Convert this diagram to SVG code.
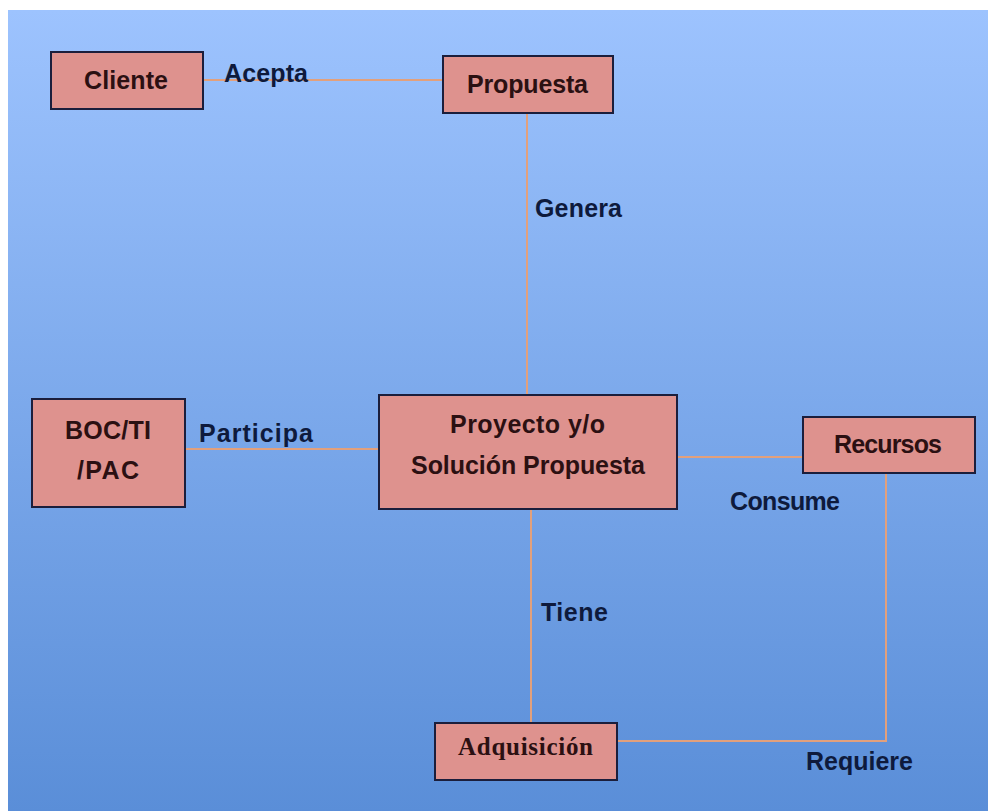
<svg xmlns="http://www.w3.org/2000/svg" width="988" height="811" viewBox="0 0 988 811">
<defs>
<linearGradient id="bg" x1="0" y1="0" x2="0" y2="1">
<stop offset="0" stop-color="#9DC3FE"/>
<stop offset="1" stop-color="#5A8ED8"/>
</linearGradient>
<style>
.box{fill:#DE928E;stroke:#1B1E3C;stroke-width:2}
.nt{font-family:"Liberation Sans",Arial,sans-serif;font-weight:bold;font-size:25px;fill:#2B1012}
.ns{font-family:"Liberation Serif","Times New Roman",serif;font-weight:bold;font-size:25px;fill:#2B1012}
.lb{font-family:"Liberation Sans",Arial,sans-serif;font-weight:bold;font-size:25px;fill:#0E1A3C}
.cn{fill:none;stroke:#E2A07C;stroke-width:2}
</style>
</defs>
<rect x="0" y="0" width="988" height="811" fill="#FFFFFF"/>
<rect x="8" y="10" width="980" height="801" fill="url(#bg)"/>
<g id="connectors">
<path class="cn" d="M203 80 H443"/>
<path class="cn" d="M527 113 V395"/>
<path class="cn" d="M185 449 H379"/>
<path class="cn" d="M677 457 H803"/>
<path class="cn" d="M531 509 V723"/>
<path class="cn" d="M617 741 H886 V473"/>
<text class="lb" x="224" y="82" textLength="84">Acepta</text>
<text class="lb" x="535" y="217" textLength="87">Genera</text>
<text class="lb" x="199" y="442" textLength="114">Participa</text>
<text class="lb" x="730" y="510" textLength="110">Consume</text>
<text class="lb" x="541" y="621" textLength="67">Tiene</text>
<text class="lb" x="806" y="770" textLength="107">Requiere</text>
</g>
<g id="cliente">
<rect class="box" x="51" y="52" width="152" height="57"/>
<text class="nt" x="84" y="89" textLength="84">Cliente</text>
</g>
<g id="propuesta">
<rect class="box" x="443" y="56" width="170" height="57"/>
<text class="nt" x="467" y="93" textLength="121">Propuesta</text>
</g>
<g id="boc">
<rect class="box" x="32" y="399" width="153" height="108"/>
<text class="nt" x="65" y="439" textLength="86">BOC/TI</text>
<text class="nt" x="77" y="479" textLength="62">/PAC</text>
</g>
<g id="proyecto">
<rect class="box" x="379" y="395" width="298" height="114"/>
<text class="nt" x="450" y="433" textLength="155">Proyecto y/o</text>
<text class="nt" x="411" y="474" textLength="234">Solución Propuesta</text>
</g>
<g id="recursos">
<rect class="box" x="803" y="417" width="172" height="56"/>
<text class="nt" x="834" y="453" textLength="108">Recursos</text>
</g>
<g id="adquisicion">
<rect class="box" x="435" y="723" width="182" height="57"/>
<text class="ns" x="458" y="755" textLength="135">Adquisición</text>
</g>
</svg>
